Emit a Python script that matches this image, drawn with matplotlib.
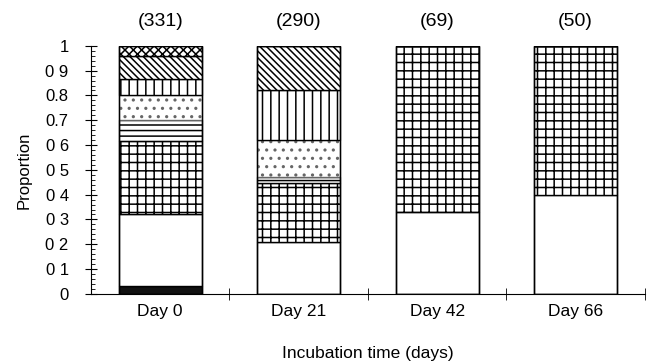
import matplotlib.pyplot as plt
import numpy as np

plt.rcParams['font.family'] = ['Liberation Sans', 'DejaVu Sans']
plt.rcParams['hatch.linewidth'] = 1.1

days = ['Day 0', 'Day 21', 'Day 42', 'Day 66']
counts = ['(331)', '(290)', '(69)', '(50)']

# proportion of each category per day, stacked from bottom
black = [0.03, 0.0, 0.0, 0.0]
white = [0.29, 0.21, 0.33, 0.40]
grid = [0.295, 0.236, 0.67, 0.60]
hlines = [0.085, 0.027, 0.0, 0.0]
dots = [0.10, 0.147, 0.0, 0.0]
vlines = [0.066, 0.203, 0.0, 0.0]
diag = [0.094, 0.177, 0.0, 0.0]
xhatch = [0.04, 0.0, 0.0, 0.0]

yticklabels = ['0', '0 1', '0 2', '0 3', '0 4', '0 5', '0 6', '0.7', '0.8', '0 9', '1']

# (values, fill, hatch, hatch/edge colour)
series = [
    (black, '#111111', None, 'black'),
    (white, 'white', None, 'black'),
    (grid, 'white', '++', 'black'),
    (hlines, 'white', '---', 'black'),
    (dots, 'white', '..', '#666666'),
    (vlines, 'white', '||', 'black'),
    (diag, 'white', '\\\\\\\\\\', 'black'),
    (xhatch, 'white', 'xxxx', 'black'),
]

fig = plt.figure(figsize=(6.54, 3.61), dpi=100)
ax = fig.add_axes([0.139, 0.186, 0.847, 0.687])

x = np.arange(len(days))
bottom = np.zeros(len(days))
for vals, col, hatch, ec in series:
    vals = np.array(vals)
    ax.bar(x, vals, 0.6, bottom=bottom, color=col, hatch=hatch,
           edgecolor=ec, linewidth=1.0)
    bottom = bottom + vals
# outline round each whole bar
ax.bar(x, bottom, 0.6, fill=False, edgecolor='black', linewidth=1.0)

for i, c in enumerate(counts):
    ax.text(x[i], 1.1, c, ha='center', va='center', fontsize=14, clip_on=False)

ax.set_xlim(-0.5, 3.5)
ax.set_ylim(0, 1)
ax.spines['top'].set_visible(False)
ax.spines['right'].set_visible(False)

ax.set_xticks(x)
ax.set_xticklabels(days, fontsize=12.5)
ax.set_xticks(np.arange(0.5, 4, 1), minor=True)
ax.tick_params(axis='x', which='major', length=0, pad=7)
ax.tick_params(axis='x', which='minor', direction='inout', length=8)

ax.set_yticks(np.arange(0, 1.01, 0.1))
ax.set_yticklabels(yticklabels, fontsize=12)
ax.set_yticks(np.arange(0, 1.001, 0.02), minor=True)
ax.tick_params(axis='y', which='major', direction='inout', length=8, pad=12)
ax.tick_params(axis='y', which='minor', direction='in', length=3)

ax.set_ylabel('Proportion', fontsize=12, labelpad=10)
ax.set_xlabel('Incubation time (days)', fontsize=12.5, labelpad=20)

fig.savefig('out.png', dpi=100)
